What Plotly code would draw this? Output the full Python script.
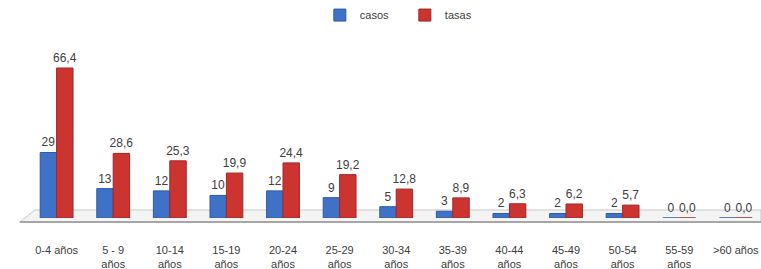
import plotly.graph_objects as go

categorias = ["0-4 años", "5 - 9<br>años", "10-14<br>años", "15-19<br>años", "20-24<br>años",
              "25-29<br>años", "30-34<br>años", "35-39<br>años", "40-44<br>años", "45-49<br>años",
              "50-54<br>años", "55-59<br>años", ">60 años"]
casos = [29, 13, 12, 10, 12, 9, 5, 3, 2, 2, 2, 0, 0]
tasas = [66.4, 28.6, 25.3, 19.9, 24.4, 19.2, 12.8, 8.9, 6.3, 6.2, 5.7, 0.0, 0.0]

azul = "#3F72C6"
rojo = "#CC3430"
fuente = "Liberation Sans Narrow, Arial Narrow, Liberation Sans, sans-serif"

fig = go.Figure()
fig.add_trace(go.Bar(
    x=categorias, y=casos, name="casos",
    marker=dict(color=azul, line=dict(color="#2C5AA8", width=1)),
    texttemplate="%{y}", textposition="outside", cliponaxis=False,
    textfont=dict(color="#404040", size=12, family=fuente),
))
fig.add_trace(go.Bar(
    x=categorias, y=tasas, name="tasas",
    marker=dict(color=rojo, line=dict(color="#A02626", width=1)),
    texttemplate="%{y:.1f}", textposition="outside", cliponaxis=False,
    textfont=dict(color="#404040", size=12, family=fuente),
))

# 3D-like floor under the bars (decorative)
fig.add_shape(type="path", xref="paper", yref="paper", layer="below",
              path="M 0.026,-0.0225 L 1.0,-0.0225 L 1.0,0.045 L 0.046,0.045 Z",
              fillcolor="#F4F4F4", line=dict(color="#C8C8C8", width=1))
fig.add_shape(type="line", xref="paper", yref="paper", layer="below",
              x0=0.026, x1=1.0, y0=-0.0225, y1=-0.0225,
              line=dict(color="#A6A6A6", width=2))

fig.update_layout(
    width=761, height=269,
    margin=dict(l=0, r=0, t=40, b=51, autoexpand=False),
    paper_bgcolor="white", plot_bgcolor="white",
    separators=",.",
    barmode="group", bargap=0.42, bargroupgap=0.0,
    uniformtext=dict(minsize=12, mode="show"),
    font=dict(family=fuente, color="#404040", size=11),
    showlegend=True,
    legend=dict(orientation="h", x=0.532, xanchor="center", y=1.14, yanchor="middle",
                font=dict(size=11, color="#404040", family=fuente),
                entrywidth=40, itemwidth=30, tracegroupgap=0, bgcolor="rgba(0,0,0,0)"),
    xaxis=dict(range=[-1.0, 12.445], showline=False,
               ticks="", showgrid=False, ticklabelstandoff=24,
               tickfont=dict(size=11, color="#404040", family=fuente)),
    yaxis=dict(range=[0, 78.8], visible=False, showgrid=False, zeroline=False),
)

fig.write_html("out.html", config={"displayModeBar": False},
               post_script="document.body.style.margin='0';document.body.style.overflow='hidden';")
